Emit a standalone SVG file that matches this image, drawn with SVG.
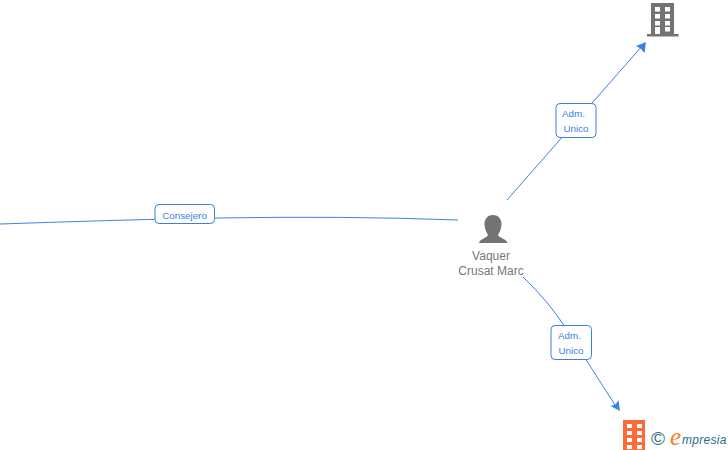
<svg xmlns="http://www.w3.org/2000/svg" width="728" height="450" viewBox="0 0 728 450">
<style>
.c{fill:none;stroke:#3b82e6;stroke-width:1}
.a{fill:#3b82e6}
.b{fill:#fff;stroke:#3b7fe0;stroke-width:1}
.l{font:9.800px "Liberation Sans",Arial,sans-serif;fill:#3b7fe0;text-anchor:middle}
.n{font:12px "Liberation Sans",Arial,sans-serif;fill:#777;text-anchor:middle}
.g{fill:#737373}
.w{fill:#fff}
.o{fill:#ff6a39}
</style>
<rect width="728" height="450" fill="#fff"/>
<g id="connectors">
<path class="c" d="M0 224 C150 219 300 214 458 220"/>
<path class="c" d="M507 200 L643 45"/>
<path class="a" d="M646 42 L644.500 53 L640.500 48.500 L636 46 Z"/>
<path class="c" d="M523 277 Q549 302 565 327 L617 408"/>
<path class="a" d="M620 411 L610.500 406 L615.500 404.500 L618.500 400 Z"/>
</g>
<g id="edge-consejero">
<rect class="b" x="155" y="204.500" width="59.500" height="19" rx="4"/>
<text class="l" x="184.500" y="218.500">Consejero</text>
</g>
<g id="edge-adm-top">
<rect class="b" x="556" y="103.500" width="40" height="34" rx="4"/>
<text class="l" x="573.500" y="117">Adm.</text>
<text class="l" x="576" y="132">Unico</text>
</g>
<g id="edge-adm-bottom">
<rect class="b" x="551" y="325.500" width="40.500" height="34" rx="4"/>
<text class="l" x="569.500" y="339">Adm.</text>
<text class="l" x="571" y="354">Unico</text>
</g>
<g id="node-person">
<path class="g" d="M493 215 C499 215 502 220 501.500 225 C501 230 499 233 498 235 C499 238 507 239 507.500 243 L479 243 C479.500 239 487 238 488 235 C487 233 485 230 484.500 225 C484 220 487 215 493 215 Z"/>
<text class="n" x="491" y="260">Vaquer</text>
<text class="n" x="491" y="275">Crusat Marc</text>
</g>
<g id="node-company-top">
<rect class="g" x="651" y="3" width="23" height="31"/>
<rect class="g" x="647" y="34" width="31.500" height="2.500"/>
<g class="w">
<rect x="655" y="7" width="5" height="4.500"/><rect x="665" y="7" width="5" height="4.500"/>
<rect x="655" y="14" width="5" height="4.500"/><rect x="665" y="14" width="5" height="4.500"/>
<rect x="655" y="21" width="5" height="4.500"/><rect x="665" y="21" width="5" height="4.500"/>
<rect x="655" y="27" width="5" height="7"/><rect x="665" y="27" width="5" height="4.500"/>
</g>
</g>
<g id="node-company-bottom">
<rect class="o" x="623" y="420" width="22" height="30"/>
<g class="w">
<rect x="627" y="424" width="5" height="4"/><rect x="637" y="424" width="5" height="4"/>
<rect x="627" y="431" width="5" height="4"/><rect x="637" y="431" width="5" height="4"/>
<rect x="627" y="438" width="5" height="4"/><rect x="637" y="438" width="5" height="4"/>
<rect x="627" y="445" width="5" height="4"/><rect x="637" y="445" width="5" height="4"/>
</g>
</g>
<g id="watermark">
<text x="658" y="445" font-family="Liberation Sans,sans-serif" font-size="19" fill="#2f6f86" text-anchor="middle">©</text>
<text x="670" y="445" font-family="Liberation Serif,serif" font-style="italic" font-size="25" fill="#f58220">e</text>
<text x="682" y="444" font-family="Liberation Sans,sans-serif" font-style="italic" font-size="12" letter-spacing="0.300" fill="#1f6f86">mpresia</text>
</g>
</svg>
